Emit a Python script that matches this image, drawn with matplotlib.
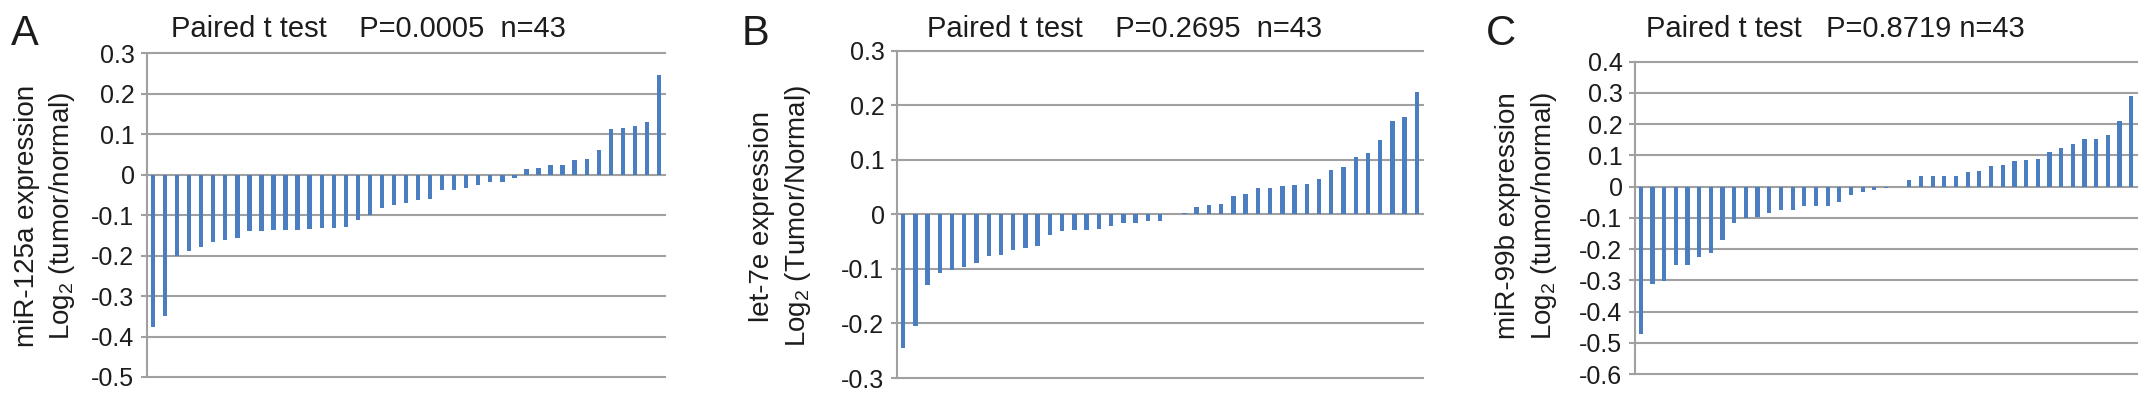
import matplotlib
matplotlib.use("Agg")
import matplotlib.pyplot as plt
import numpy as np

plt.rcParams['font.family'] = ['Liberation Sans', 'DejaVu Sans']
plt.rcParams['axes.unicode_minus'] = False

# ---- data ----
values_A = [-0.376, -0.350, -0.200, -0.188, -0.179, -0.166, -0.161, -0.157, -0.139, -0.139,
            -0.136, -0.136, -0.136, -0.133, -0.132, -0.132, -0.130, -0.112, -0.099, -0.083,
            -0.076, -0.070, -0.062, -0.059, -0.037, -0.037, -0.034, -0.026, -0.018, -0.017,
            -0.008, 0.015, 0.017, 0.024, 0.024, 0.036, 0.040, 0.062, 0.112, 0.116,
            0.120, 0.130, 0.246]
values_B = [-0.245, -0.205, -0.130, -0.108, -0.102, -0.096, -0.090, -0.076, -0.074, -0.065,
            -0.062, -0.058, -0.037, -0.030, -0.029, -0.029, -0.026, -0.021, -0.016, -0.016,
            -0.012, -0.012, 0.0, 0.002, 0.014, 0.018, 0.019, 0.033, 0.037, 0.049,
            0.049, 0.052, 0.053, 0.055, 0.064, 0.081, 0.086, 0.106, 0.113, 0.137,
            0.171, 0.179, 0.224]
values_C = [-0.473, -0.311, -0.303, -0.251, -0.251, -0.226, -0.214, -0.172, -0.116, -0.102,
            -0.096, -0.084, -0.076, -0.076, -0.063, -0.063, -0.063, -0.049, -0.027, -0.018,
            -0.012, -0.005, 0.0, 0.022, 0.033, 0.035, 0.035, 0.035, 0.047, 0.050,
            0.066, 0.069, 0.081, 0.086, 0.090, 0.111, 0.124, 0.136, 0.154, 0.154,
            0.166, 0.209, 0.289]

yticks_A = [0.3, 0.2, 0.1, 0.0, -0.1, -0.2, -0.3, -0.4, -0.5]
yticks_B = [0.3, 0.2, 0.1, 0.0, -0.1, -0.2, -0.3]
yticks_C = [0.4, 0.3, 0.2, 0.1, 0.0, -0.1, -0.2, -0.3, -0.4, -0.5, -0.6]

titles = ["Paired t test    P=0.0005  n=43",
          "Paired t test    P=0.2695  n=43",
          "Paired t test   P=0.8719 n=43"]
panel_letters = ["A", "B", "C"]
ylabel_line1 = ["miR-125a expression", "let-7e expression", "miR-99b expression"]
ylabel_line2 = [r"Log$_\mathregular{2}$ (tumor/normal)",
                r"Log$_\mathregular{2}$ (Tumor/Normal)",
                r"Log$_\mathregular{2}$ (tumor/normal)"]

# ---- layout (pixels in a 2150 x 396 canvas) ----
W, H = 2150, 396
axes_px = [(147, 665, 53.3, 377), (897, 1423, 50.7, 378), (1635, 2137, 61.7, 374)]
title_x = [368, 1125, 1835]
letter_x = [11, 742, 1486]
ylab1_x = [27, 762, 1508]
ylab2_x = [62, 798, 1544]

bar_color = '#4A7EC0'
grid_color = '#A0A0A0'
text_color = '#1c1c1c'

fig = plt.figure(figsize=(W / 100, H / 100), dpi=100)

all_values = [values_A, values_B, values_C]
all_ticks = [yticks_A, yticks_B, yticks_C]

def fmt(v):
    return "0" if abs(v) < 1e-9 else f"{v:.1f}"

for i in range(3):
    l, r, t, b = axes_px[i]
    ax = fig.add_axes([l / W, 1 - b / H, (r - l) / W, (b - t) / H])
    vals = all_values[i]
    x = np.arange(len(vals))
    ax.bar(x, vals, width=0.36, color=bar_color, zorder=3)
    ticks = all_ticks[i]
    ax.set_ylim(min(ticks), max(ticks))
    ax.set_xlim(-0.5, len(vals) - 0.5)
    ax.set_yticks(ticks)
    ax.set_yticklabels([fmt(v) for v in ticks])
    ax.set_xticks([])
    for y in ticks:
        ax.axhline(y, color=grid_color, lw=1.5, zorder=1, clip_on=False)
    for s in ['top', 'right', 'bottom']:
        ax.spines[s].set_visible(False)
    ax.spines['left'].set_color(grid_color)
    ax.spines['left'].set_linewidth(1.5)
    ax.tick_params(axis='y', length=4, width=1.5, color=grid_color, pad=5,
                   labelsize=18, labelcolor=text_color)

    fig.text(title_x[i] / W, 1 - 37 / H, titles[i], ha='center', va='baseline',
             fontsize=21, color=text_color)
    fig.text(letter_x[i] / W, 1 - 45 / H, panel_letters[i], ha='left', va='baseline',
             fontsize=30, color=text_color)
    fig.text(ylab1_x[i] / W, 1 - 216 / H, ylabel_line1[i], rotation=90,
             ha='center', va='center', fontsize=20, color=text_color)
    fig.text(ylab2_x[i] / W, 1 - 216 / H, ylabel_line2[i], rotation=90,
             ha='center', va='center', fontsize=20, color=text_color)

fig.savefig("out.png", dpi=100, facecolor='white')
